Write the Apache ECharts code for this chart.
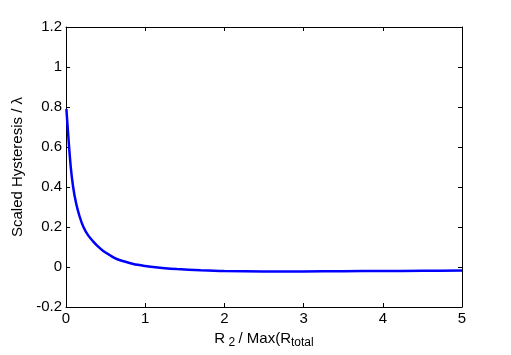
<!DOCTYPE html>
<html>
<head>
<meta charset="utf-8">
<script src="https://cdn.jsdelivr.net/npm/echarts@6/dist/echarts.min.js"></script>
<style>
  html, body { margin: 0; padding: 0; background: #fff; }
  #main { width: 511px; height: 355px; }
</style>
</head>
<body>
<div id="main"></div>
<script>
var myChart = echarts.init(document.getElementById('main'));

// curve
var xValues = [0.005, 0.03, 0.06, 0.09, 0.127, 0.17, 0.22, 0.28, 0.345, 0.4, 0.47, 0.55, 0.64, 0.75, 0.85, 1.0, 1.1, 1.25, 1.4, 1.7, 2, 2.5, 3, 3.5, 4, 4.5, 5];
var yValues = [0.79, 0.65, 0.5, 0.4, 0.32, 0.255, 0.2, 0.158, 0.127, 0.104, 0.08, 0.06, 0.04, 0.026, 0.015, 0.005, 0.0, -0.006, -0.01, -0.016, -0.02, -0.022, -0.022, -0.021, -0.02, -0.019, -0.018];
var xTicks = [0, 1, 2, 3, 4, 5];
var yTicks = [-0.2, 0, 0.2, 0.4, 0.6, 0.8, 1, 1.2];

var pts = [];
for (var i = 0; i < xValues.length; i++) {
    pts.push([xValues[i], yValues[i]]);
}

var font = 'Liberation Sans, Arial, sans-serif';
var lineStyle = { color: '#000', width: 1 };

var option = {
    animation: false,
    backgroundColor: '#fff',
    grid: { left: 66, right: 49, top: 27, bottom: 48 },
    xAxis: [{
        type: 'value',
        min: 0, max: 5, interval: 1,
        name: '{r|R}{s| 2 }{r|/ Max(R}{s|total}',
        nameLocation: 'middle',
        nameGap: 20,
        nameTextStyle: {
            rich: {
                r: { fontFamily: font, fontSize: 15, color: '#000' },
                s: { fontFamily: font, fontSize: 12, color: '#000', verticalAlign: 'bottom', padding: [9, 0, 0, 0] }
            }
        },
        axisLine: { show: true, onZero: false, lineStyle: lineStyle },
        axisTick: { show: true, inside: true, length: 4, lineStyle: lineStyle },
        axisLabel: { color: '#000', fontFamily: font, fontSize: 15, margin: 4,
            formatter: function (v) { return xTicks.indexOf(v) >= 0 ? String(v) : ''; } },
        splitLine: { show: false }
    }, {
        type: 'value',
        position: 'top',
        min: 0, max: 5, interval: 1,
        axisLine: { show: true, onZero: false, lineStyle: lineStyle },
        axisTick: { show: true, inside: true, length: 4, lineStyle: lineStyle },
        axisLabel: { show: false },
        splitLine: { show: false }
    }],
    yAxis: [{
        type: 'value',
        min: -0.2, max: 1.2, interval: 0.2,
        name: 'Scaled Hysteresis / λ',
        nameLocation: 'middle',
        nameGap: 41,
        nameTextStyle: { color: '#000', fontFamily: font, fontSize: 15 },
        axisLine: { show: true, onZero: false, lineStyle: lineStyle },
        axisTick: { show: true, inside: true, length: 4, lineStyle: lineStyle },
        axisLabel: { color: '#000', fontFamily: font, fontSize: 15, margin: 4,
            formatter: function (v) {
                var r = Math.round(v * 10) / 10;
                return yTicks.indexOf(r) >= 0 ? String(r) : '';
            } },
        splitLine: { show: false }
    }, {
        type: 'value',
        position: 'right',
        min: -0.2, max: 1.2, interval: 0.2,
        axisLine: { show: true, onZero: false, lineStyle: lineStyle },
        axisTick: { show: true, inside: true, length: 4, lineStyle: lineStyle },
        axisLabel: { show: false },
        splitLine: { show: false }
    }],
    series: [{
        type: 'line',
        data: pts,
        smooth: 0.3,
        showSymbol: false,
        lineStyle: { color: '#0000ff', width: 2.5 },
        itemStyle: { color: '#0000ff' }
    }]
};
myChart.setOption(option);
</script>
</body>
</html>
